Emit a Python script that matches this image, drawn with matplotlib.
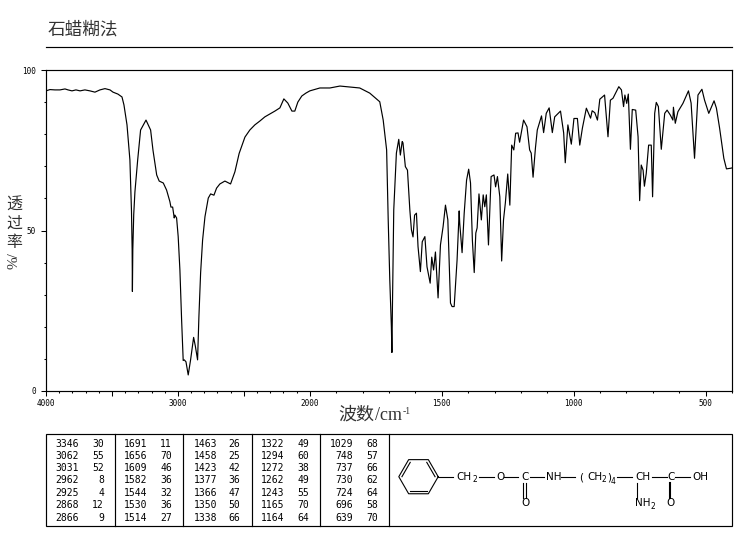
import matplotlib
matplotlib.use("Agg")
import matplotlib.pyplot as plt
import numpy as np
from matplotlib.patches import Rectangle

plt.rcParams['font.family'] = ['Noto Sans CJK SC', 'DejaVu Sans']

title = "石蜡糊法"
xlabel_cjk = "波数"
xlabel_unit = "/cm"
xlabel_exp = "-1"
ylabel = "透过率"
ylabel_unit = "%/"

wavenumber = [4000,3970,3932,3894,3856,3833,3803,3773,3742,3705,3667,3629,3591,3553,3515,3492,3455,3424,3409,3386,3364,
 3352,3347,3345,3342,3335,3326,3305,3283,3242,3207,3189,3161,3142,3111,3086,3061,3053,3040,3028,3023,3010,2998,2985,2972,2960,
 2952,2939,2922,2904,2881,2868,2851,2841,2828,2813,2795,2770,2752,2727,2707,2682,2644,2601,2568,2536,2492,2455,2417,2379,2341,
 2303,2265,2227,2197,2167,2136,2114,2091,2061,2030,2000,1962,1924,1886,1848,1811,1773,1735,1722,1709,1703,1697,1691,1689,1687,
 1682,1672,1663,1657,1650,1647,1638,1630,1621,1615,1609,1603,1596,1590,1581,1574,1564,1556,1544,1538,1531,1524,1514,1505,1495,
 1486,1477,1467,1461,1453,1442,1434,1432,1423,1415,1406,1398,1391,1384,1377,1371,1366,1359,1350,1343,1337,1331,1323,1313,1302,
 1296,1289,1280,1273,1266,1259,1250,1242,1235,1227,1220,1211,1205,1190,1177,1167,1161,1154,1145,1138,1122,1114,1104,1093,1081,
 1072,1050,1038,1032,1022,1009,999,986,977,967,952,936,930,920,910,901,883,870,861,851,829,819,811,806,799,793,785,778,765,756,
 750,744,737,732,725,716,706,701,693,687,679,668,655,646,634,624,622,615,605,586,565,555,542,529,514,504,488,468,459,447,431,
 421,405,400]
transmittance = [93.5,93.9,93.8,93.8,94.1,93.8,93.5,93.8,93.5,93.8,93.5,93.1,93.8,94.2,93.8,93.1,92.5,91.6,89.1,82.9,72,
 56,44,31,44,55,62,72,81.3,84.4,81.3,75,67.3,65.4,64.8,62.6,59,57.3,57.3,53.9,54.8,53.9,48.1,37.7,22.1,9.5,
 9.7,9.1,5,9.7,16.7,14,9.7,23.1,36.8,47,54.3,60.1,61.4,61,63.2,64.5,65.4,64.5,68.3,74,79.1,81.3,82.9,84.1,85.4,
 86.3,87.2,88.2,91,89.7,87.2,87.2,90,91.9,92.8,93.5,94.4,94.4,95,94.7,94.4,92.8,90.1,84.4,75.1,53.3,34.6,20,12,25.9,
 56.4,74.1,78.4,73.5,77.7,77.3,69.9,68.8,56.4,50.2,48,54.8,55.4,45,37.2,46.5,48.1,38.7,33.6,41.7,37.7,43.3,29,45.5,51.2,
 57.9,53.3,27.4,26.3,26.3,40.8,56.1,52.3,43.1,55.4,65.7,69.1,64.8,47,36.9,49.2,50.8,61.4,53.3,61.1,57.4,61.1,45.5,66.8,67.3,
 63.6,66.8,60.5,40.5,53.3,58.6,67.6,57.9,76.6,75.1,80.3,80.4,77.5,84.4,82.3,75.1,74.1,66.6,75.7,81.3,85.7,80.5,86.5,88.2,80.5,
 85.4,87.2,80.4,71.1,82.9,76.9,84.9,84.9,76.6,81.9,88.1,85,87.3,86.7,84.4,90.9,92.2,79.2,90.6,91.2,94.8,93.8,88.6,92.2,89.6,92.5,75.3,87.7,87.5,79.2,
 59.3,70.4,68.8,63.8,67.8,76.6,76.6,60.5,86.5,89.9,88.6,75.3,86.5,87.5,86,84.4,88.4,83.4,87,89.6,93.5,89.7,72.5,92.2,94,90.6,86.5,90.4,88.1,81.9,72.5,
 69.2,69.4,69.5]

x_ticks = [4000,3500,3000,2500,2000,1500,1000,500]
x_tick_labels = ["4000","","3000","","2000","1500","1000","500"]
x_minor = [3900,3800,3700,3600,3400,3300,3200,3100,2900,2800,2700,2600,2400,2300,2200,2100,
           1900,1800,1700,1600,1400,1300,1200,1100,900,800,700,600,400]
y_ticks = [0,50,100]
y_minor = [10,20,30,40,60,70,80,90]

peak_columns = [
 [("3346",30),("3062",55),("3031",52),("2962",8),("2925",4),("2868",12),("2866",9)],
 [("1691",11),("1656",70),("1609",46),("1582",36),("1544",32),("1530",36),("1514",27)],
 [("1463",26),("1458",25),("1423",42),("1377",36),("1366",47),("1350",50),("1338",66)],
 [("1322",49),("1294",60),("1272",38),("1262",49),("1243",55),("1165",70),("1164",64)],
 [("1029",68),("748",57),("737",66),("730",62),("724",64),("696",58),("639",70)],
]

W, H = 737, 539
fig = plt.figure(figsize=(W/100, H/100), dpi=100, facecolor='white')

# overlay in pixel coordinates
bg = fig.add_axes([0, 0, 1, 1])
bg.set_xlim(0, W); bg.set_ylim(H, 0); bg.axis('off')

def forward(x):
    x = np.asarray(x, float)
    return np.where(x <= 2000, x, 2000 + (x - 2000) / 2)
def inverse(u):
    u = np.asarray(u, float)
    return np.where(u <= 2000, u, 2000 + (u - 2000) * 2)

ax = fig.add_axes([46/W, 1 - 391/H, 686/W, 321/H])
ax.patch.set_alpha(0)
ax.set_xscale('function', functions=(forward, inverse))
ax.set_xlim(4000, 400)
ax.set_ylim(0, 100)
ax.plot(wavenumber, transmittance, color='black', lw=0.85)
ax.set_xticks(x_ticks)
ax.set_xticks(x_minor, minor=True)
ax.set_yticks(y_ticks)
ax.set_yticks(y_minor, minor=True)
ax.set_xticklabels(x_tick_labels, fontsize=5.5, family='DejaVu Sans Mono')
ax.set_yticklabels([str(t) for t in y_ticks], fontsize=5.5, family='DejaVu Sans Mono')
ax.tick_params(axis='both', which='major', length=3.6, width=0.75)
ax.tick_params(axis='x', which='major', pad=2)
ax.tick_params(axis='y', which='major', pad=3.5)
ax.tick_params(axis='both', which='minor', length=1.5, width=0.75)
for s in ax.spines.values():
    s.set_linewidth(0.85)

INK = '#333333'
# title and rule
bg.text(48, 30, title, fontsize=12.7, color=INK, ha='left', va='center')
bg.plot([46, 732], [47, 47], color='black', lw=0.85)

# axis titles
bg.text(338, 415, xlabel_cjk, fontsize=13, color=INK, ha='left', va='center')
bg.text(375, 415, xlabel_unit, fontsize=13, color=INK, family='Liberation Serif', ha='left', va='center')
bg.text(403, 411, xlabel_exp, fontsize=7, color=INK, family='Liberation Serif', ha='left', va='center')
for yy, ch in zip([205, 223, 242], ylabel):
    bg.text(14, yy, ch, fontsize=11.5, color=INK, ha='center', va='center')
bg.text(14, 261, ylabel_unit, fontsize=11, color=INK, family='Liberation Serif', rotation=90, ha='center', va='center')

# peak table
bg.add_patch(Rectangle((46, 434), 686, 92, fc='none', ec='black', lw=0.85))
for xv in [115, 183, 252, 320, 389]:
    bg.plot([xv, xv], [434, 526], color='black', lw=0.85)
row_y = [444.3, 456, 468, 480.3, 492.8, 505.3, 518]
wn_right = [79, 147, 217, 284, 353]
t_right = [104, 172, 240, 309, 378]
for col, xw, xt in zip(peak_columns, wn_right, t_right):
    for (w, t), yy in zip(col, row_y):
        bg.text(xw, yy, w, fontsize=7, family='DejaVu Sans Mono', ha='right', va='center')
        bg.text(xt, yy, str(t), fontsize=7, family='DejaVu Sans Mono', ha='right', va='center')

# structure: benzene ring
ang = np.deg2rad(np.arange(0, 360, 60))
cx, cy, r = 418.5, 476.7, 19.7
px = cx + r*np.cos(ang); py = cy + r*np.sin(ang)
bg.plot(np.r_[px, px[0]], np.r_[py, py[0]], color='black', lw=0.8)
for i in [1, 3, 5]:
    a, b = i, (i+1) % 6
    fx = cx + 0.84*(px[[a, b]]-cx); fy = cy + 0.84*(py[[a, b]]-cy)
    bg.plot(fx, fy, color='black', lw=0.8)

def lab(x, y, s, size=7.5):
    bg.text(x, y, s, fontsize=size, family='DejaVu Sans', ha='center', va='center')
def bond(x0, y0, x1, y1, lw=0.8):
    bg.plot([x0, x1], [y0, y1], color='black', lw=lw)

Y0 = 476.7
bond(438.5, Y0, 453, Y0)
lab(464, 477, "CH"); lab(475, 480, "2", 5.5)
bond(479, Y0, 494, Y0)
lab(500.7, 477, "O")
bond(504, Y0, 518, Y0)
lab(525, 477, "C")
bond(523.5, 483, 523.5, 498); bond(526, 483, 526, 498)
lab(525.7, 503.5, "O")
bond(530, Y0, 544, Y0)
lab(554, 477, "NH")
bond(561, Y0, 575, Y0)
lab(581, 477, "(")
lab(594.5, 477, "CH"); lab(603.5, 480, "2", 5.5)
lab(609, 477, ")"); lab(613, 481, "4", 5.5)
bond(617, Y0, 631.7, Y0)
lab(643, 477, "CH")
bond(652, Y0, 667, Y0)
bond(637.3, 483, 637.3, 498)
lab(643, 503.5, "NH"); lab(653, 506.5, "2", 5.5)
lab(671, 477, "C")
bond(670, 483, 670, 498, lw=1.5)
lab(671, 503.5, "O")
bond(675, Y0, 690, Y0)
lab(700, 477, "OH")

fig.savefig("out.png", dpi=100, facecolor='white')
